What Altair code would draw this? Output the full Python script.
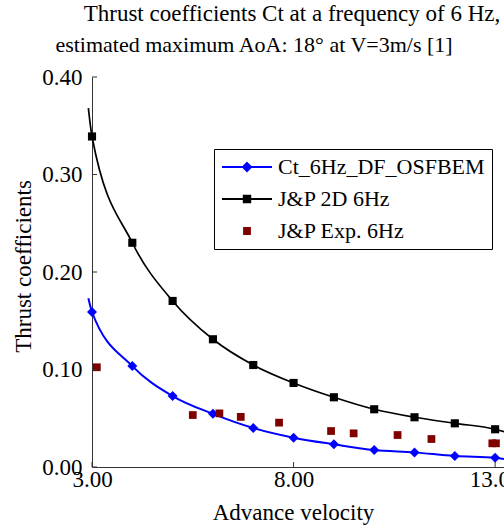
import altair as alt
import pandas as pd

FONT = "Liberation Serif"

title_lines = ["Thrust coefficients Ct at a frequency of 6 Hz,",
               "estimated maximum AoA: 18°  at V=3m/s [1]"]
series_names = ["Ct_6Hz_DF_OSFBEM", "J&P 2D 6Hz", "J&P Exp. 6Hz"]
series_colors = ["#0000FF", "#000000", "#800000"]

# Ct_6Hz_DF_OSFBEM (markers)
sim_v = [3, 4, 5, 6, 7, 8, 9, 10, 11, 12, 13]
sim_ct = [0.159, 0.1035, 0.0728, 0.0545, 0.0400, 0.0301, 0.0233, 0.0174, 0.0150, 0.0113, 0.0096]
# its smoothed curve (extends slightly beyond the markers)
sim_curve_v = [2.91, 3, 4, 5, 6, 7, 8, 9, 10, 11, 12, 13, 13.22]
sim_curve_ct = [0.173, 0.159, 0.1035, 0.0728, 0.0545, 0.0400, 0.0301, 0.0233, 0.0174, 0.0150, 0.0113, 0.0096, 0.0082]

# J&P 2D 6Hz
jp2d_v = [3, 4, 5, 6, 7, 8, 9, 10, 11, 12, 13]
jp2d_ct = [0.339, 0.230, 0.1703, 0.131, 0.1046, 0.0862, 0.0715, 0.0592, 0.0510, 0.0448, 0.0387]
jp2d_curve_v = [2.91, 3, 4, 5, 6, 7, 8, 9, 10, 11, 12, 13, 13.22]
jp2d_curve_ct = [0.368, 0.339, 0.230, 0.1703, 0.131, 0.1046, 0.0862, 0.0715, 0.0592, 0.0510, 0.0448, 0.0387, 0.0362]

# J&P Exp. 6Hz
exp_v = [3.12, 5.50, 6.16, 6.69, 7.64, 8.93, 9.49, 10.58, 11.42, 12.93, 13.02]
exp_ct = [0.1023, 0.0533, 0.0550, 0.0514, 0.0455, 0.0369, 0.0345, 0.0328, 0.0287, 0.0243, 0.0243]

x_ticks = [3, 8, 13]
y_ticks = [0.0, 0.1, 0.2, 0.3, 0.4]

W, H = 412, 390
AX = "#333333"
FS = 23

xscale = alt.Scale(domain=[3, 13.22], nice=False, zero=False)
yscale = alt.Scale(domain=[0, 0.4], nice=False, zero=False)

x_axis = alt.Axis(title="Advance velocity", values=x_ticks, format=".2f", grid=False,
                  ticks=False, tickSize=0, labelFlush=False, labelFont=FONT, labelFontSize=FS,
                  labelColor="black", labelPadding=19, labelBaseline="alphabetic",
                  titleFont=FONT, titleFontSize=FS, titleFontWeight="normal", titleColor="black",
                  titleX=201, titleY=52, titleBaseline="alphabetic",
                  domainColor=AX, domainWidth=1)
y_axis = alt.Axis(title="Thrust coefficients", values=y_ticks, format=".2f", grid=False,
                  ticks=False, tickSize=0, labelFont=FONT, labelFontSize=FS,
                  labelColor="black", labelPadding=10,
                  titleFont=FONT, titleFontSize=FS, titleFontWeight="normal", titleColor="black",
                  titleX=-62, titleY=189, titleAlign="center", titleAngle=270,
                  titleBaseline="alphabetic",
                  domainColor=AX, domainWidth=1)

def X(f="v"):
    return alt.X(f"{f}:Q", scale=xscale, axis=x_axis)

def Y(f="ct"):
    return alt.Y(f"{f}:Q", scale=yscale, axis=y_axis)

sim_curve = pd.DataFrame({"v": sim_curve_v, "ct": sim_curve_ct})
sim_pts = pd.DataFrame({"v": sim_v, "ct": sim_ct})
jp_curve = pd.DataFrame({"v": jp2d_curve_v, "ct": jp2d_curve_ct})
jp_pts = pd.DataFrame({"v": jp2d_v, "ct": jp2d_ct})
exp_pts = pd.DataFrame({"v": exp_v, "ct": exp_ct})

jp_line = alt.Chart(jp_curve).mark_line(color=series_colors[1], strokeWidth=1.7,
                                         interpolate="monotone").encode(x=X(), y=Y())
jp_mark = alt.Chart(jp_pts).mark_point(shape="square", filled=True, opacity=1,
                                        color=series_colors[1], size=66).encode(x=X(), y=Y())
sim_line = alt.Chart(sim_curve).mark_line(color=series_colors[0], strokeWidth=2,
                                           interpolate="monotone").encode(x=X(), y=Y())
sim_mark = alt.Chart(sim_pts).mark_point(shape="diamond", filled=True, opacity=1,
                                          color=series_colors[0], size=100).encode(x=X(), y=Y())
exp_mark = alt.Chart(exp_pts).mark_point(shape="square", filled=True, opacity=1,
                                          color=series_colors[2], size=60).encode(x=X(), y=Y())

# axis ticks pointing inward
xt = alt.Chart(pd.DataFrame({"v": x_ticks})).mark_rule(color=AX, strokeWidth=1).encode(
    x=X(), y=alt.value(H), y2=alt.value(H - 5))
yt = alt.Chart(pd.DataFrame({"ct": y_ticks})).mark_rule(color=AX, strokeWidth=1).encode(
    y=Y(), x=alt.value(0), x2=alt.value(5))

# legend (symbols combine line + marker)
leg_paths = [
    "M-2.5,0L2.5,0M0,-0.42L0.42,0L0,0.42L-0.42,0Z",
    "M-2.5,0L2.5,0M-0.33,-0.33L0.33,-0.33L0.33,0.33L-0.33,0.33Z",
    "M-0.3,-0.3L0.3,-0.3L0.3,0.3L-0.3,0.3Z",
]
leg_df = pd.DataFrame({"series": series_names, "v": [sim_v[0], jp2d_v[0], exp_v[0]],
                       "ct": [sim_ct[0], jp2d_ct[0], exp_ct[0]]})
legend = alt.Legend(orient="none", legendX=122, legendY=72, title=None,
                    labelFont=FONT, labelFontSize=22, labelColor="black", labelLimit=400,
                    strokeColor="black", fillColor="white", padding=7, rowPadding=10,
                    symbolSize=400, symbolStrokeWidth=1.8, symbolOffset=15, labelOffset=20,
                    symbolOpacity=1, cornerRadius=0)
cs = alt.Scale(domain=series_names, range=series_colors)
leg_layer = alt.Chart(leg_df).mark_point(filled=True, opacity=0).encode(
    x=X(), y=Y(),
    fill=alt.Fill("series:N", scale=cs, legend=legend, sort=series_names),
    stroke=alt.Stroke("series:N", scale=cs, legend=legend, sort=series_names),
    shape=alt.Shape("series:N", scale=alt.Scale(domain=series_names, range=leg_paths),
                    legend=legend, sort=series_names),
)

# title lines
t1 = alt.Chart(pd.DataFrame({"t": [title_lines[0]]})).mark_text(
    font=FONT, fontSize=23, color="black", align="center", baseline="alphabetic").encode(
    text="t:N", x=alt.value(200), y=alt.value(-56))
t2 = alt.Chart(pd.DataFrame({"t": [title_lines[1]]})).mark_text(
    font=FONT, fontSize=22, color="black", align="center", baseline="alphabetic").encode(
    text="t:N", x=alt.value(162), y=alt.value(-25))

chart = alt.layer(jp_line, sim_line, jp_mark, sim_mark, exp_mark, xt, yt, leg_layer, t1, t2).properties(
    width=W, height=H,
    autosize=alt.AutoSizeParams(type="none"),
    padding={"left": 92, "top": 77, "right": 0, "bottom": 61},
    background="white",
).configure_view(strokeWidth=0)

chart.save("out.html", embed_options={"renderer": "svg", "actions": False})
